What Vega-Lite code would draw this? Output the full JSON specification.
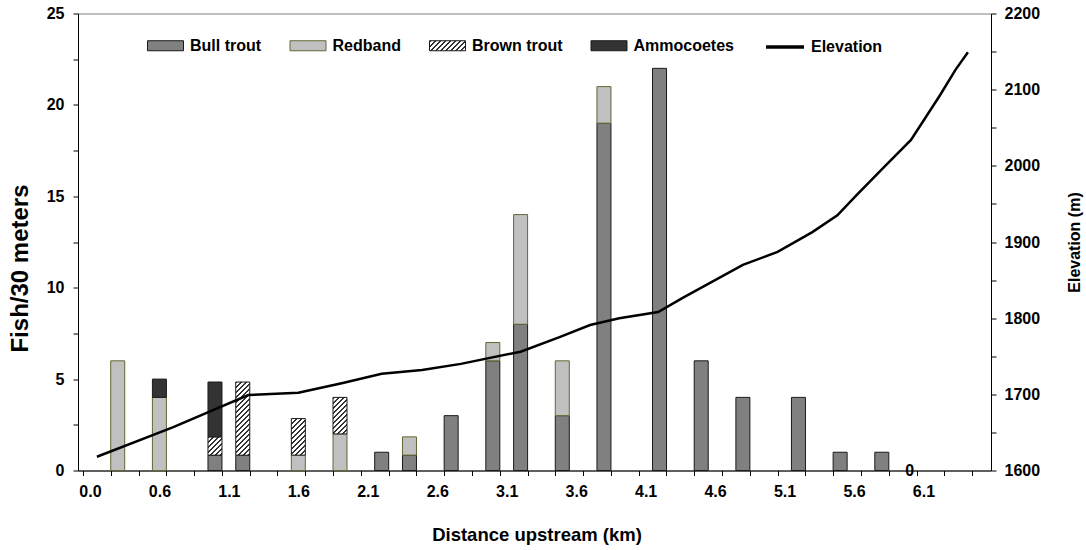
{
  "$schema": "https://vega.github.io/schema/vega-lite/v6.json",
  "width": 913,
  "height": 457,
  "autosize": {"type": "none"},
  "padding": {"left": 78, "top": 13.5, "right": 95, "bottom": 79.5},
  "background": "white",
  "config": {
    "font": "Liberation Sans",
    "view": {"stroke": "#808080", "strokeWidth": 1},
    "axis": {
      "grid": false,
      "domainColor": "black",
      "domainWidth": 1,
      "tickColor": "black",
      "tickSize": 5,
      "labelFont": "Liberation Sans",
      "labelFontSize": 16,
      "labelFontWeight": "bold",
      "labelColor": "black",
      "titleFont": "Liberation Sans",
      "titleFontSize": 16,
      "titleFontWeight": "bold",
      "titleColor": "black"
    },
    "legend": {
      "labelFont": "Liberation Sans",
      "labelFontSize": 16,
      "labelFontWeight": "bold",
      "labelColor": "black"
    }
  },
  "datasets": {
    "fish": [
      {"km": 0.3, "species": "Redband", "n": 6},
      {"km": 0.6, "species": "Redband", "n": 4},
      {"km": 0.6, "species": "Ammocoetes", "n": 1},
      {"km": 1.0, "species": "Bull trout", "n": 0.84},
      {"km": 1.0, "species": "Brown trout", "n": 1.0},
      {"km": 1.0, "species": "Ammocoetes", "n": 3.0},
      {"km": 1.2, "species": "Bull trout", "n": 0.84},
      {"km": 1.2, "species": "Brown trout", "n": 4.0},
      {"km": 1.6, "species": "Redband", "n": 0.84},
      {"km": 1.6, "species": "Brown trout", "n": 2.0},
      {"km": 1.9, "species": "Redband", "n": 2},
      {"km": 1.9, "species": "Brown trout", "n": 2},
      {"km": 2.2, "species": "Bull trout", "n": 1},
      {"km": 2.4, "species": "Bull trout", "n": 0.84},
      {"km": 2.4, "species": "Redband", "n": 1.0},
      {"km": 2.7, "species": "Bull trout", "n": 3},
      {"km": 3.0, "species": "Bull trout", "n": 6},
      {"km": 3.0, "species": "Redband", "n": 1},
      {"km": 3.2, "species": "Bull trout", "n": 8},
      {"km": 3.2, "species": "Redband", "n": 6},
      {"km": 3.5, "species": "Bull trout", "n": 3},
      {"km": 3.5, "species": "Redband", "n": 3},
      {"km": 3.8, "species": "Bull trout", "n": 19},
      {"km": 3.8, "species": "Redband", "n": 2},
      {"km": 4.2, "species": "Bull trout", "n": 22},
      {"km": 4.5, "species": "Bull trout", "n": 6},
      {"km": 4.8, "species": "Bull trout", "n": 4},
      {"km": 5.2, "species": "Bull trout", "n": 4},
      {"km": 5.5, "species": "Bull trout", "n": 1},
      {"km": 5.8, "species": "Bull trout", "n": 1},
      {"km": 6.0, "species": "Bull trout", "n": 0}
    ],
    "elev": [
      {"km": 0.15, "elev": 1618},
      {"km": 0.70, "elev": 1657},
      {"km": 1.24, "elev": 1699},
      {"km": 1.60, "elev": 1702},
      {"km": 1.92, "elev": 1715},
      {"km": 2.20, "elev": 1727},
      {"km": 2.49, "elev": 1732},
      {"km": 2.77, "elev": 1740},
      {"km": 3.20, "elev": 1756},
      {"km": 3.48, "elev": 1775},
      {"km": 3.70, "elev": 1791},
      {"km": 3.91, "elev": 1800},
      {"km": 4.19, "elev": 1808},
      {"km": 4.37, "elev": 1827},
      {"km": 4.80, "elev": 1870},
      {"km": 5.05, "elev": 1887},
      {"km": 5.30, "elev": 1913},
      {"km": 5.48, "elev": 1935},
      {"km": 5.62, "elev": 1962},
      {"km": 5.83, "elev": 2001},
      {"km": 6.01, "elev": 2034},
      {"km": 6.22, "elev": 2093},
      {"km": 6.33, "elev": 2126},
      {"km": 6.42, "elev": 2149}
    ]
  },
  "layer": [
    {
      "data": {"name": "fish"},
      "transform": [
        {"filter": "datum.n > 0"},
        {"calculate": "indexof(['Bull trout','Redband','Brown trout','Ammocoetes'], datum.species)", "as": "rank"}
      ],
      "mark": {"type": "bar", "size": 14, "strokeWidth": 1},
      "encoding": {
        "x": {
          "field": "km",
          "type": "quantitative",
          "scale": {"domain": [0.05, 6.55], "nice": false, "zero": false},
          "axis": {
            "orient": "bottom",
            "title": null,
            "values": [0.05, 0.25, 0.45, 0.65, 0.85, 1.05, 1.25, 1.45, 1.65, 1.85, 2.05, 2.25, 2.45, 2.65, 2.85, 3.05, 3.25, 3.45, 3.65, 3.85, 4.05, 4.25, 4.45, 4.65, 4.85, 5.05, 5.25, 5.45, 5.65, 5.85, 6.05, 6.25, 6.45],
            "labels": false,
            "ticks": true,
            "domain": true
          }
        },
        "y": {
          "field": "n",
          "type": "quantitative",
          "stack": "zero",
          "scale": {"domain": [0, 25], "nice": false},
          "axis": {
            "title": "Fish/30 meters",
            "values": [0, 2.5, 5, 7.5, 10, 12.5, 15, 17.5, 20, 22.5, 25],
            "labelExpr": "datum.value % 5 === 0 ? datum.label : ''",
            "labelPadding": 9,
            "titleFontSize": 24,
            "titleAngle": 270,
            "titleX": -51,
            "titleY": 254.5,
            "titleBaseline": "alphabetic",
            "titleAlign": "center"
          }
        },
        "order": {"field": "rank", "type": "quantitative"},
        "fill": {
          "field": "species",
          "type": "nominal",
          "scale": {"domain": ["Bull trout", "Redband", "Brown trout", "Ammocoetes"], "range": ["#808080", "#c0c0c0", "#999999", "#333333"]},
          "condition": [
            {"test": "datum.species === 'Brown trout' && datum.n < 1.5", "value": {"gradient": "linear", "x1": 0, "y1": 0, "x2": 2.637, "y2": 3.447, "stops": [{"offset":0,"color":"#333"},{"offset":0.02,"color":"#333"},{"offset":0.02,"color":"#fff"},{"offset":0.05,"color":"#fff"},{"offset":0.05,"color":"#333"},{"offset":0.07,"color":"#333"},{"offset":0.07,"color":"#fff"},{"offset":0.1,"color":"#fff"},{"offset":0.1,"color":"#333"},{"offset":0.12,"color":"#333"},{"offset":0.12,"color":"#fff"},{"offset":0.15,"color":"#fff"},{"offset":0.15,"color":"#333"},{"offset":0.17,"color":"#333"},{"offset":0.17,"color":"#fff"},{"offset":0.2,"color":"#fff"},{"offset":0.2,"color":"#333"},{"offset":0.22,"color":"#333"},{"offset":0.22,"color":"#fff"},{"offset":0.25,"color":"#fff"},{"offset":0.25,"color":"#333"},{"offset":0.27,"color":"#333"},{"offset":0.27,"color":"#fff"},{"offset":0.3,"color":"#fff"},{"offset":0.3,"color":"#333"},{"offset":0.32,"color":"#333"},{"offset":0.32,"color":"#fff"},{"offset":0.35,"color":"#fff"}]}},
            {"test": "datum.species === 'Brown trout' && datum.n < 3", "value": {"gradient": "linear", "x1": 0, "y1": 0, "x2": 0.912, "y2": 2.383, "stops": [{"offset":0,"color":"#333"},{"offset":0.02,"color":"#333"},{"offset":0.02,"color":"#fff"},{"offset":0.05,"color":"#fff"},{"offset":0.05,"color":"#333"},{"offset":0.07,"color":"#333"},{"offset":0.07,"color":"#fff"},{"offset":0.1,"color":"#fff"},{"offset":0.1,"color":"#333"},{"offset":0.12,"color":"#333"},{"offset":0.12,"color":"#fff"},{"offset":0.15,"color":"#fff"},{"offset":0.15,"color":"#333"},{"offset":0.17,"color":"#333"},{"offset":0.17,"color":"#fff"},{"offset":0.2,"color":"#fff"},{"offset":0.2,"color":"#333"},{"offset":0.22,"color":"#333"},{"offset":0.22,"color":"#fff"},{"offset":0.25,"color":"#fff"},{"offset":0.25,"color":"#333"},{"offset":0.27,"color":"#333"},{"offset":0.27,"color":"#fff"},{"offset":0.3,"color":"#fff"},{"offset":0.3,"color":"#333"},{"offset":0.32,"color":"#333"},{"offset":0.32,"color":"#fff"},{"offset":0.35,"color":"#fff"},{"offset":0.35,"color":"#333"},{"offset":0.37,"color":"#333"},{"offset":0.37,"color":"#fff"},{"offset":0.4,"color":"#fff"},{"offset":0.4,"color":"#333"},{"offset":0.42,"color":"#333"},{"offset":0.42,"color":"#fff"},{"offset":0.45,"color":"#fff"},{"offset":0.45,"color":"#333"},{"offset":0.47,"color":"#333"},{"offset":0.47,"color":"#fff"},{"offset":0.5,"color":"#fff"},{"offset":0.5,"color":"#333"},{"offset":0.52,"color":"#333"},{"offset":0.52,"color":"#fff"},{"offset":0.55,"color":"#fff"}]}},
            {"test": "datum.species === 'Brown trout'", "value": {"gradient": "linear", "x1": 0, "y1": 0, "x2": 0.252, "y2": 1.318, "stops": [{"offset":0,"color":"#333"},{"offset":0.02,"color":"#333"},{"offset":0.02,"color":"#fff"},{"offset":0.05,"color":"#fff"},{"offset":0.05,"color":"#333"},{"offset":0.07,"color":"#333"},{"offset":0.07,"color":"#fff"},{"offset":0.1,"color":"#fff"},{"offset":0.1,"color":"#333"},{"offset":0.12,"color":"#333"},{"offset":0.12,"color":"#fff"},{"offset":0.15,"color":"#fff"},{"offset":0.15,"color":"#333"},{"offset":0.17,"color":"#333"},{"offset":0.17,"color":"#fff"},{"offset":0.2,"color":"#fff"},{"offset":0.2,"color":"#333"},{"offset":0.22,"color":"#333"},{"offset":0.22,"color":"#fff"},{"offset":0.25,"color":"#fff"},{"offset":0.25,"color":"#333"},{"offset":0.27,"color":"#333"},{"offset":0.27,"color":"#fff"},{"offset":0.3,"color":"#fff"},{"offset":0.3,"color":"#333"},{"offset":0.32,"color":"#333"},{"offset":0.32,"color":"#fff"},{"offset":0.35,"color":"#fff"},{"offset":0.35,"color":"#333"},{"offset":0.37,"color":"#333"},{"offset":0.37,"color":"#fff"},{"offset":0.4,"color":"#fff"},{"offset":0.4,"color":"#333"},{"offset":0.42,"color":"#333"},{"offset":0.42,"color":"#fff"},{"offset":0.45,"color":"#fff"},{"offset":0.45,"color":"#333"},{"offset":0.47,"color":"#333"},{"offset":0.47,"color":"#fff"},{"offset":0.5,"color":"#fff"},{"offset":0.5,"color":"#333"},{"offset":0.52,"color":"#333"},{"offset":0.52,"color":"#fff"},{"offset":0.55,"color":"#fff"},{"offset":0.55,"color":"#333"},{"offset":0.57,"color":"#333"},{"offset":0.57,"color":"#fff"},{"offset":0.6,"color":"#fff"},{"offset":0.6,"color":"#333"},{"offset":0.62,"color":"#333"},{"offset":0.62,"color":"#fff"},{"offset":0.65,"color":"#fff"},{"offset":0.65,"color":"#333"},{"offset":0.67,"color":"#333"},{"offset":0.67,"color":"#fff"},{"offset":0.7,"color":"#fff"},{"offset":0.7,"color":"#333"},{"offset":0.72,"color":"#333"},{"offset":0.72,"color":"#fff"},{"offset":0.75,"color":"#fff"},{"offset":0.75,"color":"#333"},{"offset":0.77,"color":"#333"},{"offset":0.77,"color":"#fff"},{"offset":0.8,"color":"#fff"},{"offset":0.8,"color":"#333"},{"offset":0.82,"color":"#333"},{"offset":0.82,"color":"#fff"},{"offset":0.85,"color":"#fff"},{"offset":0.85,"color":"#333"},{"offset":0.87,"color":"#333"},{"offset":0.87,"color":"#fff"},{"offset":0.9,"color":"#fff"}]}}
          ],
          "legend": null
        },
        "stroke": {
          "field": "species",
          "type": "nominal",
          "scale": {"domain": ["Bull trout", "Redband", "Brown trout", "Ammocoetes"], "range": ["#1a1a1a", "#666633", "#1a1a1a", "#1a1a1a"]},
          "legend": {
            "orient": "none",
            "legendX": 69,
            "legendY": 13.5,
            "direction": "horizontal",
            "title": null,
            "symbolType": "M-1,-0.278H1V0.278H-1Z",
            "symbolSize": 1296,
            "symbolStrokeWidth": 1,
            "labelOffset": 6,
            "columnPadding": 25.5,
            "encoding": {
              "symbols": {
                "fill": {
                  "condition": {"test": "datum.value === 'Brown trout'", "value": {"gradient": "linear", "x1": 0, "y1": 0, "x2": 2.579, "y2": 0.716, "stops": [{"offset":0,"color":"#333"},{"offset":0.02,"color":"#333"},{"offset":0.02,"color":"#fff"},{"offset":0.05,"color":"#fff"},{"offset":0.05,"color":"#333"},{"offset":0.07,"color":"#333"},{"offset":0.07,"color":"#fff"},{"offset":0.1,"color":"#fff"},{"offset":0.1,"color":"#333"},{"offset":0.12,"color":"#333"},{"offset":0.12,"color":"#fff"},{"offset":0.15,"color":"#fff"},{"offset":0.15,"color":"#333"},{"offset":0.17,"color":"#333"},{"offset":0.17,"color":"#fff"},{"offset":0.2,"color":"#fff"},{"offset":0.2,"color":"#333"},{"offset":0.22,"color":"#333"},{"offset":0.22,"color":"#fff"},{"offset":0.25,"color":"#fff"},{"offset":0.25,"color":"#333"},{"offset":0.27,"color":"#333"},{"offset":0.27,"color":"#fff"},{"offset":0.3,"color":"#fff"},{"offset":0.3,"color":"#333"},{"offset":0.32,"color":"#333"},{"offset":0.32,"color":"#fff"},{"offset":0.35,"color":"#fff"},{"offset":0.35,"color":"#333"},{"offset":0.37,"color":"#333"},{"offset":0.37,"color":"#fff"},{"offset":0.4,"color":"#fff"},{"offset":0.4,"color":"#333"},{"offset":0.42,"color":"#333"},{"offset":0.42,"color":"#fff"},{"offset":0.45,"color":"#fff"},{"offset":0.45,"color":"#333"},{"offset":0.47,"color":"#333"},{"offset":0.47,"color":"#fff"},{"offset":0.5,"color":"#fff"}]}},
                  "value": {"expr": "scale('fill', datum.value)"}
                },
                "strokeWidth": {"value": 1}
              }
            }
          }
        }
      }
    },
    {
      "data": {"name": "fish"},
      "transform": [{"filter": "datum.n == 0"}],
      "mark": {"type": "text", "fontSize": 16, "fontWeight": "bold", "baseline": "middle", "align": "center", "font": "Liberation Sans", "color": "black"},
      "encoding": {
        "x": {
          "field": "km",
          "type": "quantitative",
          "scale": {"domain": [0.05, 6.55], "nice": false, "zero": false},
          "axis": {
            "orient": "bottom",
            "title": "Distance upstream (km)",
            "values": [0.1, 0.6, 1.1, 1.6, 2.1, 2.6, 3.1, 3.6, 4.1, 4.6, 5.1, 5.6, 6.1],
            "labelExpr": "datum.value < 0.2 ? '0.0' : format(datum.value, '.1f')",
            "ticks": false,
            "domain": false,
            "tickSize": 5,
            "labelFlush": false,
            "labelOverlap": false,
            "labelPadding": 13,
            "titleFontSize": 18.5,
            "titleX": 458.5,
            "titleY": 70,
            "titleBaseline": "alphabetic",
            "titleAlign": "center"
          }
        },
        "y": {"field": "n", "type": "quantitative", "scale": {"domain": [0, 25], "nice": false}, "axis": null},
        "text": {"field": "n", "type": "quantitative"}
      }
    },
    {
      "data": {"name": "elev"},
      "mark": {"type": "line", "strokeWidth": 2.5},
      "encoding": {
        "x": {"field": "km", "type": "quantitative", "scale": {"domain": [0.05, 6.55], "nice": false, "zero": false}, "axis": null},
        "y": {
          "field": "elev",
          "type": "quantitative",
          "scale": {"domain": [1600, 2200], "nice": false, "zero": false},
          "axis": {
            "orient": "right",
            "title": "Elevation (m)",
            "format": "d",
            "values": [1600, 1650, 1700, 1750, 1800, 1850, 1900, 1950, 2000, 2050, 2100, 2150, 2200],
            "labelExpr": "datum.value % 100 === 0 ? datum.label : ''",
            "labelPadding": 8,
            "titleAngle": 270,
            "titleX": 88,
            "titleY": 228.5,
            "titleBaseline": "alphabetic",
            "titleAlign": "center"
          }
        },
        "stroke": {
          "datum": "Elevation",
          "type": "nominal",
          "scale": {"domain": ["Elevation"], "range": ["black"]},
          "legend": {
            "orient": "none",
            "legendX": 686,
            "legendY": 12.5,
            "direction": "horizontal",
            "title": null,
            "symbolType": "stroke",
            "symbolSize": 1444,
            "symbolStrokeWidth": 3.5,
            "symbolStrokeColor": "black",
            "labelOffset": 5
          }
        }
      }
    }
  ],
  "resolve": {"scale": {"y": "independent", "stroke": "independent"}, "axis": {"x": "independent"}}
}
